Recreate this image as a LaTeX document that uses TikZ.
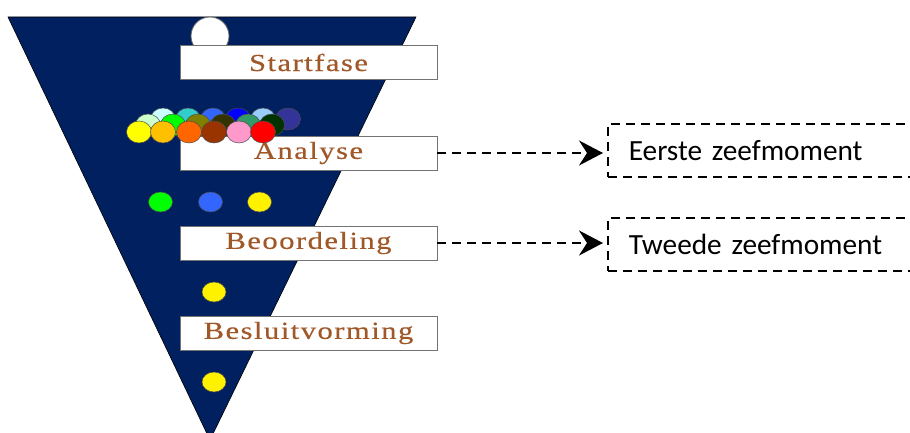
\documentclass[tikz,border=0pt]{standalone}
\usepackage{fontspec}
\setmainfont{Liberation Serif}
\newfontfamily\boxfont[FakeStretch=1.25,LetterSpace=6,FakeBold=0.4]{Liberation Serif}
\newfontfamily\notefont{Carlito}
\usetikzlibrary{arrows.meta}
\definecolor{navy}{RGB}{0,32,96}
\definecolor{labelbrown}{RGB}{160,88,40}
\begin{document}
\begin{tikzpicture}[x=1pt,y=-1pt,
  phase/.style={draw=black!55,line width=0.9pt,fill=white,minimum width=257pt,minimum height=34pt,inner sep=0pt,
    font=\boxfont\fontsize{24.5}{26}\selectfont,text=labelbrown},
  zbox/.style={draw=black,line width=1.8pt,dash pattern=on 9pt off 6pt,minimum height=53pt,
    text width=290pt,inner xsep=21pt,align=left,anchor=west,font=\notefont\fontsize{29.3}{31}\selectfont},
  zarrow/.style={draw=black,line width=1.8pt,dash pattern=on 9pt off 6pt,
    -{Stealth[length=24pt,width=25pt,inset=8pt]},shorten >=4pt},
  ball/.style={draw=black!70,line width=0.5pt}]
\useasboundingbox (0,0) rectangle (910,433);
\clip (0,0) rectangle (910,433);
% funnel
\fill[navy,draw=black,line width=0.6pt] (8,17) -- (416,17) -- (210,440) -- cycle;
% top white ball
\filldraw[fill=white,draw=black!60,line width=0.8pt] (210,36) circle (19);
% cluster back row
\foreach \x/\c in {163/{CCFFFF},188/{33CCCC},213/{3366FF},238/{0000FF},263/{99CCFF},288/{333399}}{
  \definecolor{bc}{HTML}{\c}
  \filldraw[ball,fill=bc] (\x,119) ellipse [x radius=12.5, y radius=11];
}
% cluster middle row
\foreach \x/\c in {148/{CCFFCC},173/{00FF00},198/{808000},223/{333300},248/{339966},272/{003300}}{
  \definecolor{bc}{HTML}{\c}
  \filldraw[ball,fill=bc] (\x,125) ellipse [x radius=12.5, y radius=11];
}
% phase boxes
\node[phase] (start) at (308.5,62.5) {\raisebox{-1.5pt}{Startfase}};
\node[phase] (analyse) at (308.5,153) {\raisebox{-1.5pt}{Analyse}};
% cluster front row
\foreach \x/\c in {139/{FFFF00},163/{FFC000},189/{FF6600},214/{993300},239/{FF99CC},263/{FF0000}}{
  \definecolor{bc}{HTML}{\c}
  \filldraw[ball,fill=bc] (\x,132) ellipse [x radius=12.5, y radius=11];
}
% remaining balls
\filldraw[ball,fill={rgb,255:red,0;green,255;blue,0}] (160.5,202) ellipse [x radius=12, y radius=10];
\filldraw[ball,fill={rgb,255:red,51;green,102;blue,255}] (210.5,202) ellipse [x radius=12, y radius=10];
\filldraw[ball,fill=yellow] (259.5,202) ellipse [x radius=12, y radius=10];
\node[phase] (beoord) at (308.5,243) {\raisebox{-1.5pt}{Beoordeling}};
\filldraw[ball,fill=yellow] (214,292) ellipse [x radius=12, y radius=10];
\node[phase] (besluit) at (308.5,333) {\raisebox{-1.5pt}{Besluitvorming}};
\filldraw[ball,fill=yellow] (214,382) ellipse [x radius=12, y radius=10];
% sieve moments
\node[zbox] (z1) at (607,150.5) {Eerste zeefmoment};
\node[zbox] (z2) at (607,244.5) {Tweede zeefmoment};
\draw[zarrow] (analyse.east) -- (analyse.east -| z1.west);
\draw[zarrow] (beoord.east) -- (beoord.east -| z2.west);
\end{tikzpicture}
\end{document}
